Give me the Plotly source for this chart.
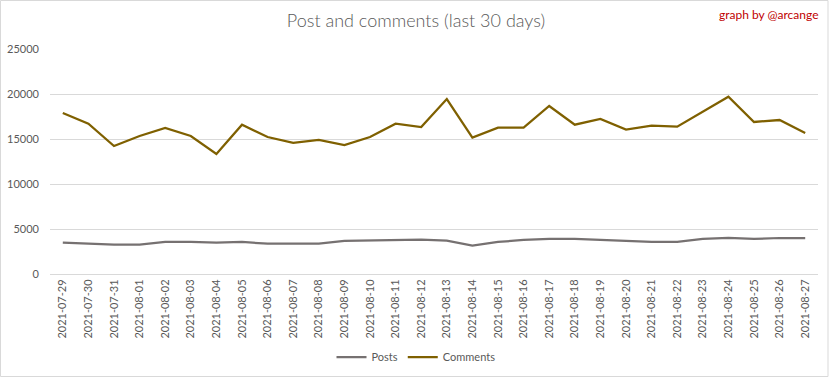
import plotly.graph_objects as go

dates = ["2021-07-29","2021-07-30","2021-07-31","2021-08-01","2021-08-02","2021-08-03","2021-08-04",
         "2021-08-05","2021-08-06","2021-08-07","2021-08-08","2021-08-09","2021-08-10","2021-08-11",
         "2021-08-12","2021-08-13","2021-08-14","2021-08-15","2021-08-16","2021-08-17","2021-08-18",
         "2021-08-19","2021-08-20","2021-08-21","2021-08-22","2021-08-23","2021-08-24","2021-08-25",
         "2021-08-26","2021-08-27"]
posts = [3480, 3330, 3260, 3260, 3560, 3560, 3480, 3560, 3370, 3370, 3370, 3670, 3700, 3780,
         3810, 3700, 3150, 3560, 3780, 3890, 3890, 3780, 3670, 3560, 3560, 3890, 4000, 3890,
         4000, 4000]
comments = [17890, 16700, 14220, 15330, 16220, 15330, 13330, 16590, 15220, 14560, 14890, 14330,
            15220, 16700, 16330, 19440, 15150, 16260, 16260, 18670, 16590, 17220, 16040, 16480,
            16370, 18070, 19700, 16890, 17110, 15670]
y_ticks = [0, 5000, 10000, 15000, 20000, 25000]

FONT = "Lato, Roboto, sans-serif"
fig = go.Figure()
fig.add_trace(go.Scatter(x=dates, y=posts, name="Posts", mode="lines",
                         line=dict(color="#767171", width=2.25)))
fig.add_trace(go.Scatter(x=dates, y=comments, name="Comments", mode="lines",
                         line=dict(color="#7F6000", width=2.25)))

fig.update_layout(
    width=832, height=378,
    margin=dict(l=50, r=14, t=49, b=104, autoexpand=False),
    paper_bgcolor="white", plot_bgcolor="white",
    font=dict(family=FONT, color="#595959", size=11),
    title=dict(text="Post and comments (last 30 days)", x=416 / 832, xref="container", xanchor="center",
               y=1 - 21 / 378, yref="container", yanchor="middle",
               font=dict(size=18, color="#595959", family="Lato, sans-serif", weight=300)),
    showlegend=True,
    legend=dict(orientation="h", x=(416 - 50) / 768, xanchor="center", y=(274 - 357) / 225, yanchor="middle",
                font=dict(size=11, color="#595959"), itemwidth=30, bgcolor="rgba(0,0,0,0)"),
    xaxis=dict(type="category", tickangle=-90, showgrid=False, showline=True, automargin=False,
               linecolor="#D9D9D9", linewidth=1, ticks="", tickfont=dict(size=11, color="#595959"),
               range=[-0.5, len(dates) - 0.5], zeroline=False),
    yaxis=dict(range=[0, 25000], tickvals=y_ticks, ticktext=[str(v) for v in y_ticks], automargin=False,
               showgrid=True, gridcolor="#D9D9D9", gridwidth=1, zeroline=False,
               showline=False, ticks="", tickfont=dict(size=11, color="#595959"), ticklabelstandoff=10),
    shapes=[dict(type="rect", xref="paper", yref="paper",
                 x0=(0.5 - 50) / 768, x1=(828 - 50) / 768,
                 y0=(274 - 376.5) / 225, y1=(274 - 0.5) / 225,
                 line=dict(color="#D9D9D9", width=1), layer="below")],
    annotations=[dict(text="graph by @arcange", xref="paper", yref="paper",
                      x=(821 - 50) / 768, xanchor="right", y=(274 - 15) / 225, yanchor="middle",
                      showarrow=False, font=dict(size=12, color="#C00000", family=FONT))],
)

fig.write_html("out.html", config={"displayModeBar": False},
               post_script="document.body.style.margin='0';")
